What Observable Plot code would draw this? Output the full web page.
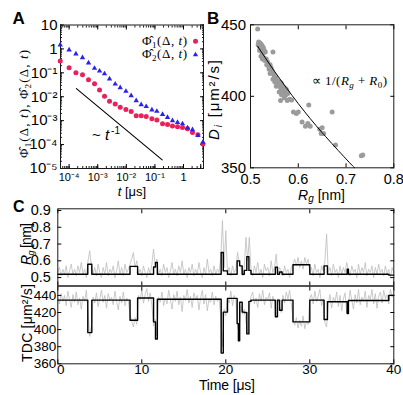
<!DOCTYPE html>
<html><head><meta charset="utf-8">
<script src="https://cdn.jsdelivr.net/npm/d3@7"></script>
<script src="https://cdn.jsdelivr.net/npm/@observablehq/plot@0.6"></script>
<style>
html,body{margin:0;padding:0;background:#fff}
body{width:403px;height:395px;overflow:hidden;position:relative;font-family:"Liberation Sans",Arial,sans-serif}
.p{position:absolute}
.p svg{max-width:none}
#ov{position:absolute;left:0;top:0;pointer-events:none}
</style></head><body>
<div id="pa" class="p" style="left:0;top:0;width:210px"></div>
<div id="pb" class="p" style="left:200px;top:0;width:203px"></div>
<div id="pc1" class="p" style="left:0;top:195px;width:403px"></div>
<div id="pc2" class="p" style="left:0;top:285px;width:403px"></div>
<svg id="ov" width="403" height="395" font-family="Liberation Sans, Arial, sans-serif" fill="#000">
  <text x="12.5" y="24" font-weight="bold" font-size="17">A</text>
  <text x="207" y="24" font-weight="bold" font-size="17">B</text>
  <text x="13" y="211.5" font-weight="bold" font-size="16">C</text>
  <!-- Panel A labels -->
  <text transform="translate(28,104) rotate(-90)" text-anchor="middle" font-family="Liberation Serif, serif" font-size="13" textLength="108" lengthAdjust="spacing">Φ̂<tspan font-size="9" dy="3">1</tspan><tspan dy="-3">(Δ, </tspan><tspan font-style="italic">t</tspan>), Φ̂<tspan font-size="9" dy="3">2</tspan><tspan dy="-3">(Δ, </tspan><tspan font-style="italic">t</tspan>)</text>
  <text x="187" y="44.5" text-anchor="end" font-family="Liberation Serif, serif" font-size="13" textLength="45" lengthAdjust="spacing">Φ̂<tspan font-size="9" dy="3">1</tspan><tspan dy="-3">(Δ, </tspan><tspan font-style="italic">t</tspan>)</text>
  <text x="187" y="58" text-anchor="end" font-family="Liberation Serif, serif" font-size="13" textLength="45" lengthAdjust="spacing">Φ̂<tspan font-size="9" dy="3">2</tspan><tspan dy="-3">(Δ, </tspan><tspan font-style="italic">t</tspan>)</text>
  <text x="92" y="140" font-size="15">~ <tspan font-style="italic">t</tspan><tspan font-size="10" dx="2" dy="-6">-1</tspan></text>
  <text x="132" y="196" text-anchor="middle" font-size="13"><tspan font-style="italic">t</tspan> [μs]</text>
  <!-- Panel B labels -->
  <text transform="translate(218.5,100) rotate(-90)" text-anchor="middle" font-size="15" textLength="80" lengthAdjust="spacing"><tspan font-style="italic">D</tspan><tspan font-style="italic" font-size="10" dy="3">i</tspan><tspan dy="-3"> [μm²/s]</tspan></text>
  <text x="321.5" y="199.5" text-anchor="middle" font-size="14" textLength="47" lengthAdjust="spacing"><tspan font-style="italic">R</tspan><tspan font-style="italic" font-size="10" dy="2.5">g</tspan><tspan dy="-2.5"> [nm]</tspan></text>
  <text x="312" y="84.5" font-family="Liberation Serif, serif" font-size="13" textLength="75" lengthAdjust="spacing">∝ 1/(<tspan font-style="italic">R</tspan><tspan font-style="italic" font-size="9" dy="3">g</tspan><tspan dy="-3"> + </tspan><tspan font-style="italic">R</tspan><tspan font-size="9" dy="3">0</tspan><tspan dy="-3">)</tspan></text>
  <!-- Panel C labels -->
  <text transform="translate(30.5,244) rotate(-90)" text-anchor="middle" font-size="14" textLength="42" lengthAdjust="spacing"><tspan font-style="italic">R</tspan><tspan font-style="italic" font-size="9" dy="3">g</tspan><tspan dy="-3"> [nm]</tspan></text>
  <text transform="translate(32,323) rotate(-90)" text-anchor="middle" font-size="14" textLength="78" lengthAdjust="spacing">TDC [μm²/s]</text>
  <text x="227" y="390" text-anchor="middle" font-size="14" textLength="56" lengthAdjust="spacing">Time [μs]</text>
</svg>
<script>
// ---------- Panel A data ----------
const aTimes = [4.89e-5, 1.0e-4, 1.73e-4, 2.94e-4, 4.77e-4, 7.73e-4, 1.16e-3, 1.73e-3, 2.59e-3, 4.09e-3, 6.12e-3, 9.69e-3, 1.48e-2, 2.22e-2, 3.32e-2, 4.97e-2, 7.85e-2, 0.117, 0.185, 0.276, 0.412, 0.617, 0.923, 1.38, 2.06, 3.19, 4.77];
const phi1 = [0.31, 0.162, 0.1, 0.083, 0.052, 0.035, 0.019, 0.0105, 0.0065, 0.005, 0.0036, 0.0029, 0.0024, 0.00162, 0.00162, 0.0015, 0.0012, 0.00107, 7.4e-4, 6.9e-4, 6.0e-4, 5.6e-4, 5.2e-4, 4.6e-4, 3.2e-4, 2.6e-4, 1.07e-4];
const phi2 = [1.48, 0.91, 0.62, 0.43, 0.26, 0.155, 0.119, 0.091, 0.056, 0.034, 0.024, 0.017, 0.0112, 0.0069, 0.0047, 0.0039, 0.0028, 0.00246, 0.00182, 0.00138, 0.001, 8.5e-4, 7.4e-4, 5.0e-4, 4.2e-4, 2.4e-4, 1.26e-4];
const slopeT = [1.8e-4, 0.18];
const slopePhi = [2.2e-2, 2.3e-5];
const aXTicks = [1e-4, 1e-3, 1e-2, 1e-1, 1, 4];
const aXTickLabels = ["10⁻⁴", "10⁻³", "10⁻²", "10⁻¹", "1", "4"];
const aYTicks = [1e-5, 1e-4, 1e-3, 1e-2, 1e-1, 1, 10];
const aYTickLabels = ["10⁻⁵", "10⁻⁴", "10⁻³", "10⁻²", "10⁻¹", "1", "10"];

// ---------- Panel B data ----------
const bRg = [0.515,
  0.517,0.519,0.516,0.521,0.518,0.523,0.52,0.525,0.522,0.527,0.519,0.524,0.529,0.526,0.531,
  0.547,
  0.522,0.525,0.528,0.53,0.533,0.536,0.534,0.538,0.541,0.539,0.543,0.545,0.541,
  0.548,0.55,0.547,0.553,0.551,0.556,0.558,0.554,0.56,0.562,0.565,0.563,0.567,0.569,0.566,0.571,0.573,0.575,0.577,0.57,0.574,0.578,0.56,0.565,0.571,
  0.563,0.577,0.582,0.586,
  0.622,0.59,0.596,0.6,
  0.608,0.615,0.62,0.625,0.645,0.65,0.648,0.653,
  0.671,0.678,0.732,0.735];
const bD = [447,
  438,437.5,436,437,435,436,434,435,433,434,432,431,432,430,431,
  431,
  428,426,427,425,426,424,422,421,422,419,420,418,416,
  416,414,412,413,410,411,409,407,408,410,409,406,407,405,404,406,404,405,403,402,401,402,403,401,399,
  397,397,398,397.5,
  394,389,388,389,
  382,379,381,379,377,378,374,374,
  389,366,358.5,359];
const fitRg = [0.515, 0.55, 0.6, 0.65, 0.7, 0.718];
const fitD = [435, 417.6, 394.9, 374.6, 356.2, 350];
const bXTicks = [0.5, 0.6, 0.7, 0.8];
const bYTicks = [350, 400, 450];

// ---------- Panel C data ----------
const rawDt = 0.2; // µs between raw samples
const rgRaw = [
 0.53,0.56,0.51,0.55,0.52,0.57,0.50,0.54,0.58,0.52,
 0.55,0.51,0.57,0.53,0.59,0.52,0.55,0.50,0.60,0.66,
 0.57,0.52,0.56,0.51,0.58,0.53,0.50,0.56,0.52,0.59,
 0.51,0.55,0.53,0.57,0.50,0.54,0.60,0.52,0.56,0.51,
 0.58,0.53,0.55,0.58,0.61,0.65,0.56,0.60,0.52,0.55,
 0.51,0.57,0.53,0.50,0.56,0.52,0.58,0.67,0.57,0.61,
 0.52,0.55,0.51,0.58,0.53,0.56,0.50,0.54,0.59,0.52,
 0.55,0.51,0.57,0.53,0.60,0.52,0.55,0.50,0.56,0.53,
 0.58,0.51,0.55,0.52,0.59,0.53,0.50,0.56,0.52,0.61,
 0.53,0.55,0.51,0.57,0.52,0.55,0.53,0.62,0.84,0.56,
 0.78,0.53,0.56,0.51,0.57,0.53,0.55,0.65,0.59,0.56,
 0.51,0.56,0.74,0.60,0.74,0.54,0.51,0.57,0.53,0.59,
 0.52,0.55,0.50,0.58,0.54,0.56,0.51,0.60,0.53,0.56,
 0.64,0.52,0.56,0.54,0.51,0.57,0.53,0.55,0.50,0.56,
 0.58,0.61,0.57,0.62,0.56,0.60,0.55,0.62,0.58,0.61,
 0.53,0.56,0.51,0.58,0.53,0.55,0.50,0.57,0.54,0.60,
 0.76,0.53,0.56,0.51,0.58,0.53,0.55,0.50,0.57,0.52,
 0.56,0.53,0.59,0.54,0.51,0.57,0.53,0.55,0.50,0.58,
 0.52,0.56,0.53,0.59,0.51,0.55,0.53,0.57,0.50,0.56,
 0.52,0.58,0.53,0.55,0.51,0.57,0.52,0.55,0.50,0.56,
 0.53];
const tdcRaw = [
 438,430,442,433,440,428,445,435,426,441,
 432,444,429,437,424,439,433,446,420,392,
 404,438,431,443,427,436,446,432,440,425,
 442,434,438,429,445,433,423,439,431,444,
 428,437,433,418,410,403,414,406,440,435,
 446,431,441,448,433,443,429,404,412,392,
 438,432,444,428,437,430,446,435,424,441,
 433,445,429,438,421,440,434,447,431,439,
 426,443,435,440,423,437,446,430,441,422,
 436,432,444,429,439,433,437,415,380,424,
 416,437,431,445,428,440,434,402,398,428,
 418,424,409,396,425,439,444,430,437,426,
 442,433,446,429,438,435,443,425,439,432,
 414,436,428,420,440,431,444,436,446,430,
 412,405,414,402,411,404,416,401,410,406,
 437,441,430,445,433,439,447,428,436,408,
 403,430,441,425,438,432,444,427,440,422,
 436,443,419,430,446,434,424,441,431,447,
 429,438,433,445,426,440,435,447,430,442,
 425,439,444,431,446,436,441,430,447,438,
 442];
const segT   = [0, 3.57, 4.05, 8.6, 9.5, 11.4, 11.63, 11.85, 19.45, 19.7, 20.2, 21.35, 21.5, 21.65, 21.95, 22.2, 22.5, 22.75, 23.0, 25.9, 26.15, 26.4, 26.7, 28.0, 30.0, 31.7, 32.1, 34.45, 34.6, 39.4, 40];
const rgSeg  = [0.52, 0.58, 0.52, 0.567, 0.52, 0.563, 0.59, 0.52, 0.65, 0.54, 0.52, 0.6, 0.6, 0.57, 0.52, 0.543, 0.625, 0.543, 0.52, 0.562, 0.52, 0.533, 0.52, 0.577, 0.52, 0.57, 0.52, 0.55, 0.52, 0.515, 0.515];
const tdcSeg = [434.5, 396.5, 434.5, 411, 437, 409, 389, 435.5, 372.5, 420.5, 436.5, 407, 387, 432, 420.5, 420, 395, 433, 434.5, 415, 434.5, 422.7, 434.5, 409, 434.5, 411.8, 432.5, 418.8, 434, 440, 440];
const rgTicks = [0.5, 0.6, 0.7, 0.8, 0.9];
const tdcTicks = [360, 380, 400, 420, 440];
const timeTicks = [0, 10, 20, 30, 40];
const timeTickLabels = ["0", "10", "20", "30", "40"];

// ---------- helpers ----------
const FONT = "Liberation Sans, Arial, sans-serif";
const style = {background: "transparent", overflow: "visible", fontFamily: FONT, color: "#000"};
const blank = () => "";
const frameCol = "#1a1a1a";
const rawCol = "#bdbdbd";

// ---------- Panel A ----------
const minorAX = d3.scaleLog().domain([5e-5, 5]).ticks();
const minorAY = d3.scaleLog().domain([1e-5, 10]).ticks();
const plotA = Plot.plot({
  width: 210, height: 200,
  marginLeft: 60, marginRight: 7, marginTop: 24.5, marginBottom: 32,
  x: {type: "log", domain: [5e-5, 5]},
  y: {type: "log", domain: [1e-5, 10]},
  style,
  marks: [
    Plot.axisX(minorAX, {anchor: "bottom", tickSize: -2, tickFormat: blank, label: null, stroke: frameCol}),
    Plot.axisX(minorAX, {anchor: "top", tickSize: -2, tickFormat: blank, label: null, stroke: frameCol}),
    Plot.axisY(minorAY, {anchor: "left", tickSize: -2, tickFormat: blank, label: null, stroke: frameCol}),
    Plot.axisY(minorAY, {anchor: "right", tickSize: -2, tickFormat: blank, label: null, stroke: frameCol}),
    Plot.axisX(aXTicks, {anchor: "bottom", tickSize: -4, tickPadding: 9, fontSize: 11, label: null,
      tickFormat: d => aXTickLabels[aXTicks.indexOf(d)]}),
    Plot.axisX(aXTicks, {anchor: "top", tickSize: -4, tickFormat: blank, label: null}),
    Plot.axisY(aYTicks, {anchor: "left", tickSize: -4, tickPadding: 7, fontSize: 15, label: null,
      tickFormat: d => aYTickLabels[aYTicks.indexOf(d)]}),
    Plot.axisY(aYTicks, {anchor: "right", tickSize: -4, tickFormat: blank, label: null}),
    Plot.frame({stroke: frameCol}),
    Plot.line(slopeT, {x: d => d, y: (d, i) => slopePhi[i], stroke: "#000", strokeWidth: 1.1}),
    Plot.dot(phi1, {x: (d, i) => aTimes[i], y: d => d, r: 2.5, fill: "#ea1f5c"}),
    Plot.dot(phi2, {x: (d, i) => aTimes[i], y: d => d, symbol: "triangle", r: 2.0, fill: "#2b22ee"}),
    Plot.dot(["Φ1"], {frameAnchor: "top-right", dx: -8, dy: 16.2, r: 2.5, fill: "#ea1f5c"}),
    Plot.dot(["Φ2"], {frameAnchor: "top-right", dx: -8, dy: 29.8, symbol: "triangle", r: 2.0, fill: "#2b22ee"})
  ]
});
document.getElementById("pa").append(plotA);

// ---------- Panel B ----------
const plotB = Plot.plot({
  width: 203, height: 200,
  marginLeft: 50, marginRight: 9.7, marginTop: 24.3, marginBottom: 32.7,
  x: {domain: [0.5, 0.8]},
  y: {domain: [350, 450]},
  style,
  marks: [
    Plot.axisX(bXTicks, {anchor: "bottom", tickSize: -4, tickPadding: 10, fontSize: 14.5, label: null, tickFormat: d => d.toFixed(1)}),
    Plot.axisX(bXTicks, {anchor: "top", tickSize: -4, tickFormat: blank, label: null}),
    Plot.axisY(bYTicks, {anchor: "left", tickSize: -4, tickPadding: 8.5, fontSize: 15, label: null, tickFormat: d => String(d)}),
    Plot.axisY(bYTicks, {anchor: "right", tickSize: -4, tickFormat: blank, label: null}),
    Plot.frame({stroke: frameCol}),
    Plot.dot(bD, {x: (d, i) => bRg[i], y: d => d, r: 2.5, fill: "#9b9b9b"}),
    Plot.line(fitRg, {x: d => d, y: (d, i) => fitD[i], curve: "natural", stroke: "#000", strokeWidth: 1})
  ]
});
document.getElementById("pb").append(plotB);

// ---------- Panel C (top: Rg) ----------
const plotC1 = Plot.plot({
  width: 403, height: 90.5,
  marginLeft: 57.3, marginRight: 9.7, marginTop: 13.3, marginBottom: 0,
  x: {domain: [0, 40]},
  y: {domain: [0.45, 0.91]},
  style,
  marks: [
    Plot.line(rgRaw, {x: (d, i) => i * rawDt, y: d => d, stroke: rawCol, strokeWidth: 0.8}),
    Plot.line(segT, {x: d => d, y: (d, i) => rgSeg[i], curve: "step-after", stroke: "#000", strokeWidth: 1.4}),
    Plot.axisY(rgTicks, {anchor: "left", tickSize: -4, tickPadding: 11, fontSize: 14.5, label: null, tickFormat: d => d.toFixed(1)}),
    Plot.axisY(rgTicks, {anchor: "right", tickSize: -4, tickFormat: blank, label: null}),
    Plot.axisX(timeTicks, {anchor: "top", tickSize: -4, tickFormat: blank, label: null}),
    Plot.axisX(timeTicks, {anchor: "bottom", tickSize: -4, tickFormat: blank, label: null}),
    Plot.frame({stroke: frameCol})
  ]
});
document.getElementById("pc1").append(plotC1);

// ---------- Panel C (bottom: TDC) ----------
const plotC2 = Plot.plot({
  width: 403, height: 110,
  marginLeft: 57.3, marginRight: 9.7, marginTop: 0.5, marginBottom: 31.7,
  x: {domain: [0, 40]},
  y: {domain: [360, 451]},
  style,
  marks: [
    Plot.line(tdcRaw, {x: (d, i) => i * rawDt, y: d => d, stroke: rawCol, strokeWidth: 0.8}),
    Plot.line(segT, {x: d => d, y: (d, i) => tdcSeg[i], curve: "step-after", stroke: "#000", strokeWidth: 1.4}),
    Plot.axisY(tdcTicks, {anchor: "left", tickSize: -4, tickPadding: 5.5, fontSize: 13.5, label: null, tickFormat: d => String(d)}),
    Plot.axisY(tdcTicks, {anchor: "right", tickSize: -4, tickFormat: blank, label: null}),
    Plot.axisX(timeTicks, {anchor: "bottom", tickSize: -4, tickFormat: blank, label: null}),
    Plot.axisX(timeTicks.slice(1), {anchor: "bottom", tickSize: 0, tickPadding: 0.8, fontSize: 13.5, label: null,
      tickFormat: d => timeTickLabels[timeTicks.indexOf(d)]}),
    Plot.axisX(timeTicks.slice(0, 1), {anchor: "bottom", tickSize: 0, tickPadding: 0.8, dx: 3, fontSize: 13.5, label: null,
      tickFormat: d => timeTickLabels[timeTicks.indexOf(d)]}),
    Plot.axisX(timeTicks, {anchor: "top", tickSize: -4, tickFormat: blank, label: null}),
    Plot.frame({stroke: frameCol})
  ]
});
document.getElementById("pc2").append(plotC2);
</script>
</body></html>
